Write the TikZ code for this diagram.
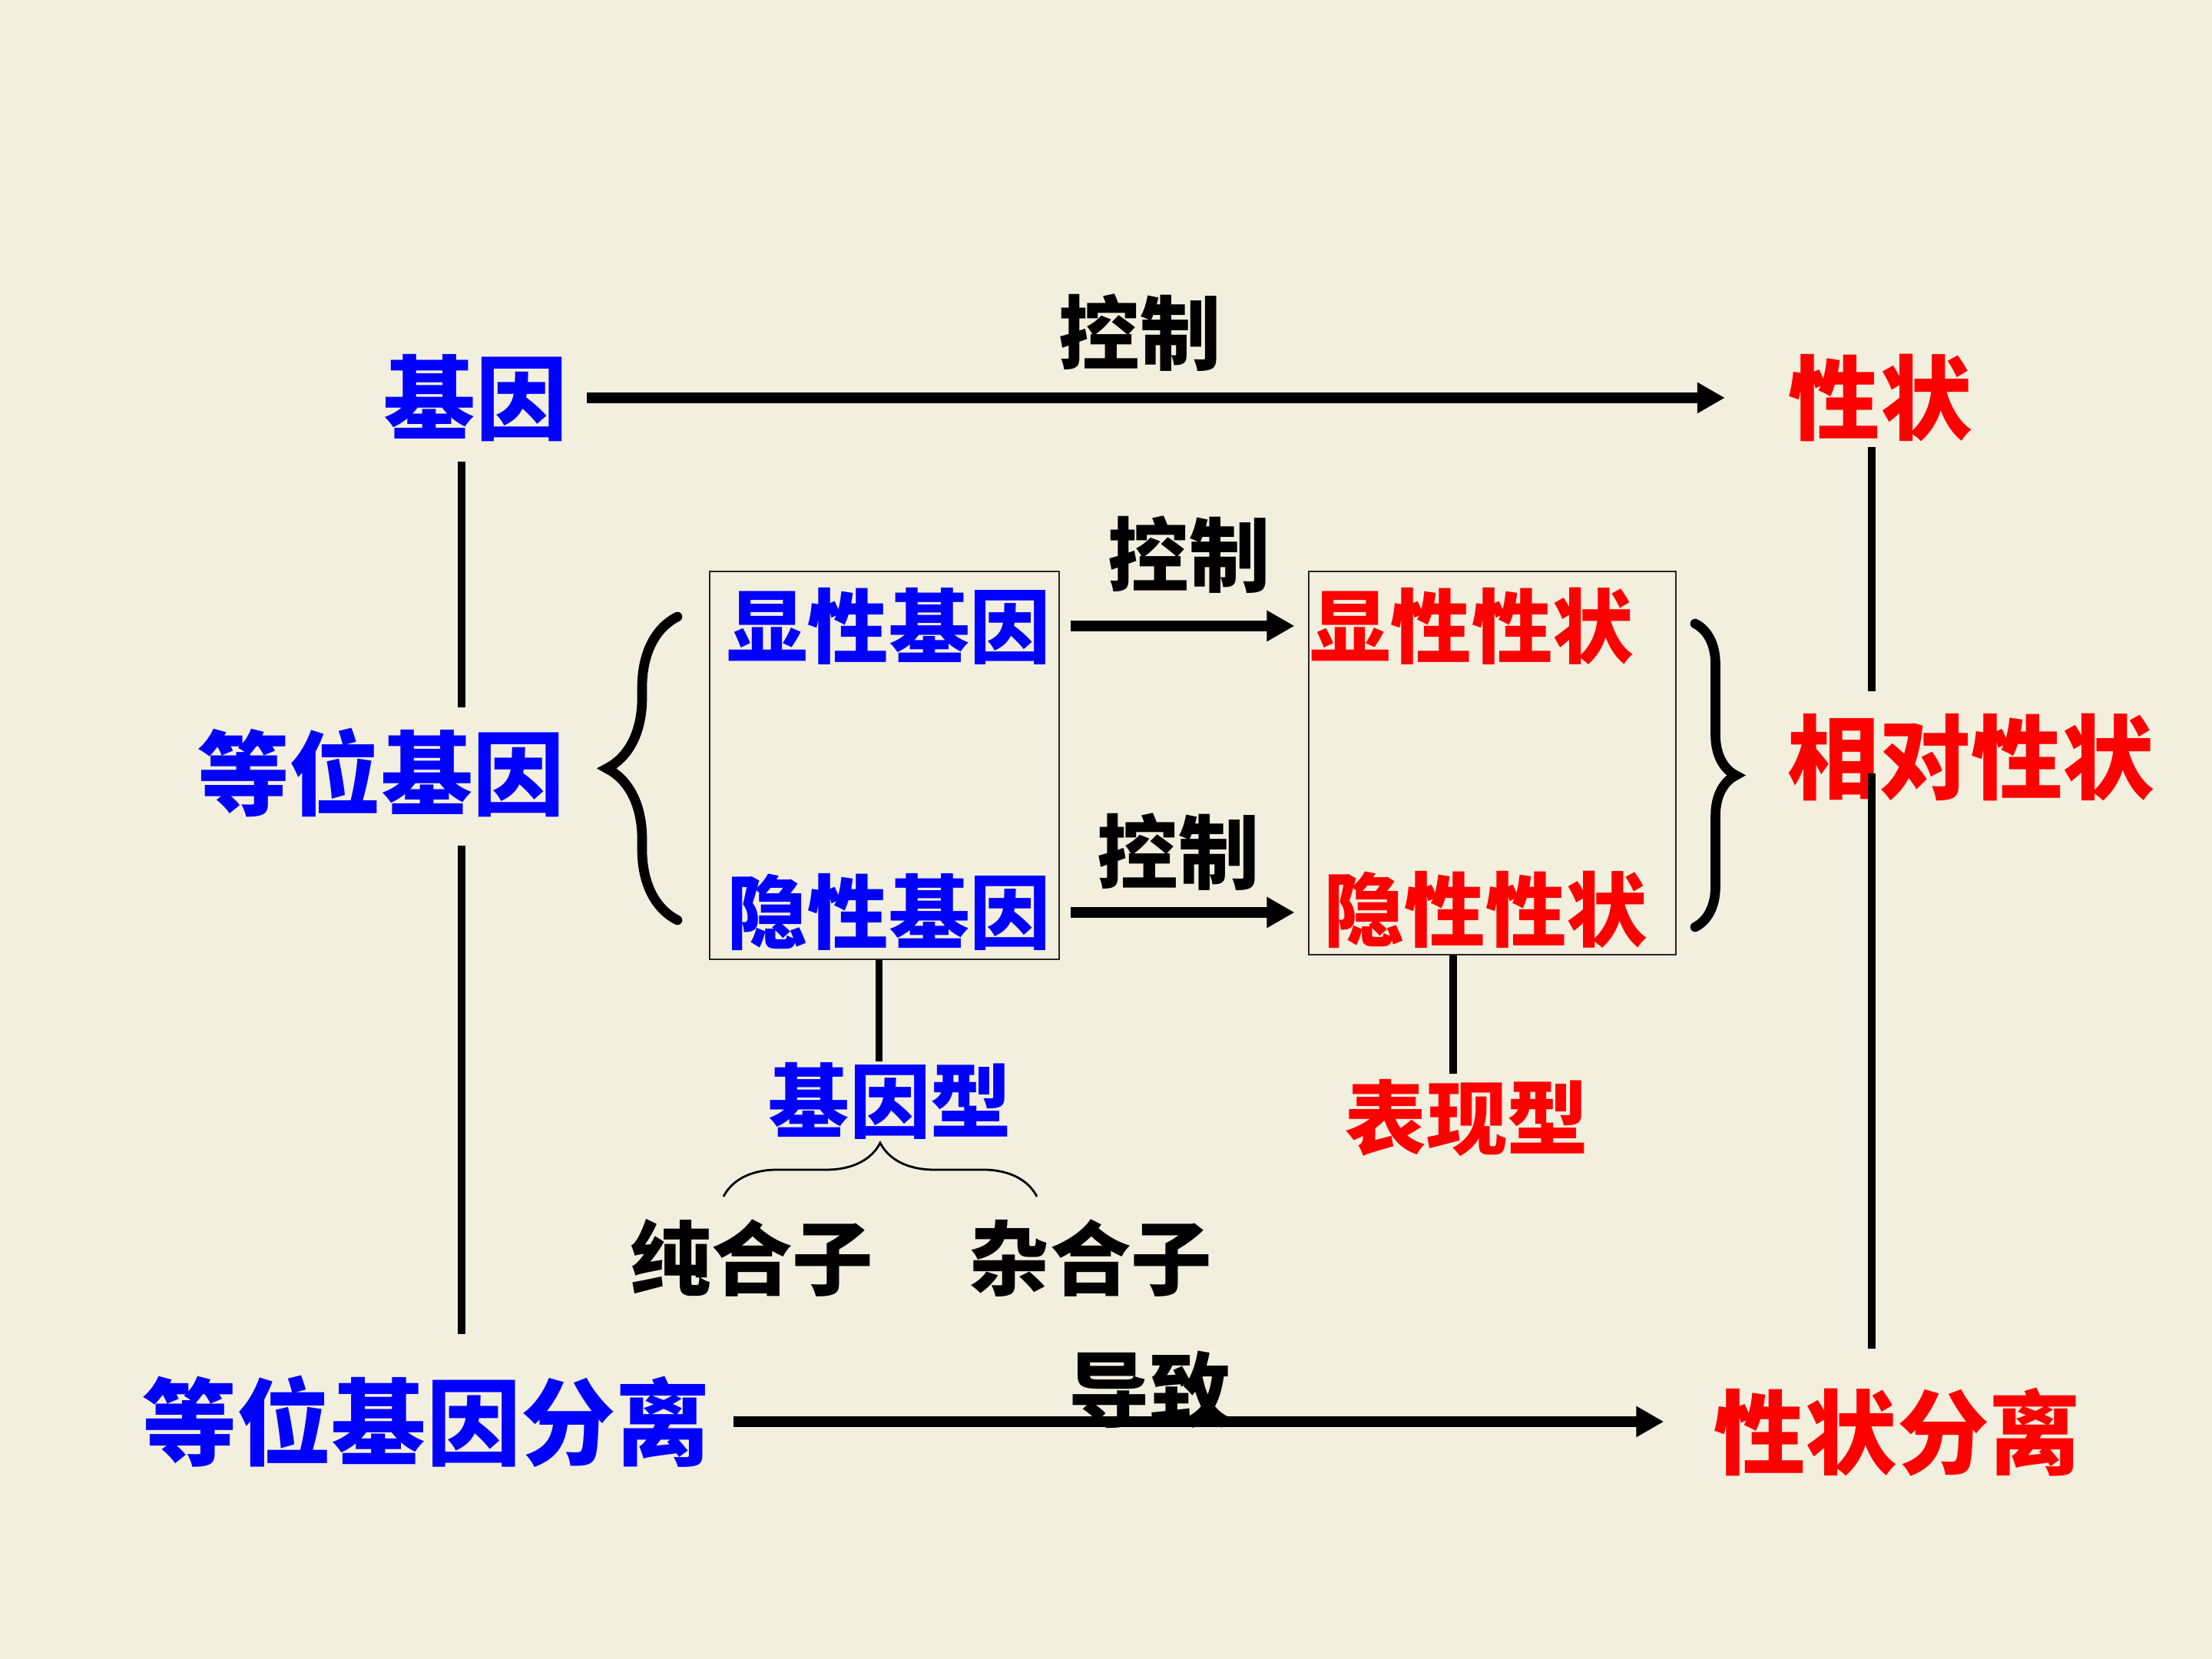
\documentclass[tikz,border=0pt]{standalone}
\usepackage{fontspec}
\newfontfamily\cjk{Noto Sans CJK SC}
\usepackage{xcolor}
\definecolor{cream}{HTML}{F3EFDF}
\definecolor{geneblue}{HTML}{0000FF}
\definecolor{traitred}{HTML}{FF0000}
\usepackage{tikz}
\usetikzlibrary{arrows.meta,positioning,decorations.pathreplacing}
\tikzset{
    bigword/.style={font=\cjk\bfseries\fontsize{34}{40}\selectfont, inner sep=0pt},
    midword/.style={font=\cjk\bfseries\fontsize{30}{36}\selectfont, inner sep=0pt},
    framebox/.style={draw=black!85, line width=0.8pt},
    thickarrow/.style={-{Triangle[length=0.36cm,width=0.38cm]}, line width=3.9pt},
    link/.style={line width=2.6pt},
    bigbrace/.style={decorate, decoration={brace, amplitude=#1}, line width=3.6pt, line cap=round},
    smallbrace/.style={decorate, decoration={brace, amplitude=0.7cm}, line width=0.8pt}
}

\begin{document}
\begin{tikzpicture}[
    gene_node/.style={bigword, text=geneblue},
    trait_node/.style={bigword, text=traitred},
    gene_sub/.style={midword, text=geneblue},
    trait_sub/.style={midword, text=traitred},
    verb_node/.style={midword, text=black}
]

  % Background sheet
  \fill[cream] (0,0) rectangle (28.8,21.6);
  \useasboundingbox (0,0) rectangle (28.8,21.6);

  % Outer frame words
  \node[gene_node] (jiyin) at (6.19,16.42) {基因};
  \node[trait_node] (xingzhuang) at (24.48,16.42) {性状};
  \node[gene_node] (dwjy) at (4.96,11.54) {等位基因};
  \node[trait_node] (xddz) at (25.66,11.74) {相对性状};
  \node[gene_node, font=\cjk\bfseries\fontsize{35}{40}\selectfont] (dwfl) at (5.55,3.09) {等位基因分离};
  \node[trait_node] (xzfl) at (24.70,2.95) {性状分离};

  % Verbs on the arrows
  \node[verb_node] (kz_top) at (14.84,17.27) {控制};
  \node[verb_node] (kz_mid1) at (15.48,14.38) {控制};
  \node[verb_node] (kz_mid2) at (15.34,10.51) {控制};
  \node[verb_node] (daozhi) at (14.97,3.51) {导致};

  % Inner boxes
  \node[framebox, minimum width=4.55cm, minimum height=5.05cm] (genebox) at (11.515,11.635) {};
  \node[framebox, minimum width=4.78cm, minimum height=4.99cm] (traitbox) at (19.43,11.665) {};

  \node[gene_sub] (xxjy) at (11.57,13.45) {显性基因};
  \node[gene_sub] (yxjy) at (11.57,9.72) {隐性基因};
  \node[trait_sub] (xxxz) at (19.16,13.45) {显性性状};
  \node[trait_sub] (yxxz) at (19.34,9.76) {隐性性状};

  % Genotype / phenotype
  \node[gene_sub] (jyx) at (11.59,7.27) {基因型};
  \node[verb_node] (chunhezi) at (9.79,5.22) {纯合子};
  \node[verb_node] (zahezi) at (14.20,5.22) {杂合子};
  \node[trait_sub] (bxx) at (19.10,7.04) {表现型};

  % Arrows
  \draw[thickarrow, shorten <=0.25cm, shorten >=0.82cm] (jiyin.east) -- (xingzhuang.west);
  \draw[thickarrow, shorten <=0.30cm, shorten >=0.64cm] (dwfl.east) -- (dwfl.east -| xzfl.west);
  \draw[thickarrow, shorten <=0.25cm, shorten >=0.19cm] (xxjy.east) -- (xxxz.west);
  \draw[thickarrow, shorten <=0.25cm, shorten >=0.37cm] (yxjy.east) -- (yxjy.east -| yxxz.west);

  % Vertical links
  \draw[link, shorten <=0.26cm, shorten >=0.26cm] ([xshift=-1.8mm]jiyin.south) -- ([xshift=-1.8mm]jiyin.south |- dwjy.north);
  \draw[link, shorten <=0.36cm, shorten >=0.53cm] ([xshift=-1.8mm]jiyin.south |- dwjy.south) -- ([xshift=-1.8mm]jiyin.south |- dwfl.north);
  \draw[link, shorten <=0.06cm, shorten >=0.28cm] ([xshift=-1.1mm]xingzhuang.south) -- ([xshift=-1.1mm]xingzhuang.south |- xddz.north);
  \draw[link, shorten <=0.21cm, shorten >=0.51cm] ([xshift=-1.1mm]xingzhuang.south |- xddz.center) -- ([xshift=-1.1mm]xingzhuang.south |- xzfl.north);
  \draw[link] ([xshift=-0.7mm]genebox.south) -- ([xshift=-0.7mm]genebox.south |- jyx.north);
  \draw[link, shorten <=0.07cm] ([xshift=-1.8mm]bxx.north) -- ([xshift=-1.8mm]bxx.north |- traitbox.south);

  % Braces
  \draw[bigbrace=0.92cm] (8.82,9.62) -- (8.82,13.57);
  \draw[bigbrace=0.53cm] (22.07,13.48) -- (22.07,9.53);
  \draw[smallbrace] (9.42,6.02) -- (13.50,6.02);

\end{tikzpicture}
\end{document}
